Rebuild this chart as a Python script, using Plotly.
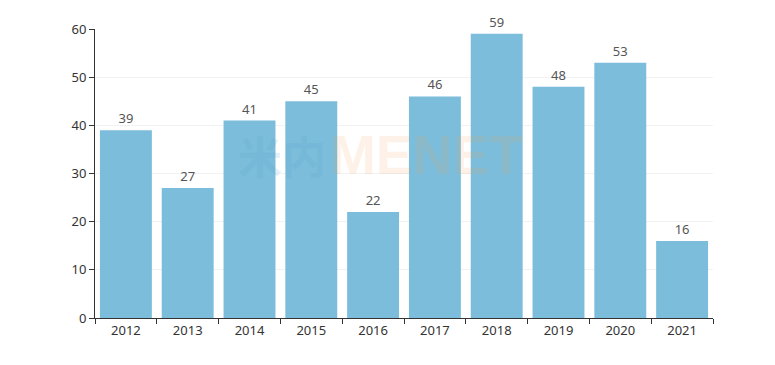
import plotly.graph_objects as go

years = ["2012", "2013", "2014", "2015", "2016", "2017", "2018", "2019", "2020", "2021"]
values = [39, 27, 41, 45, 22, 46, 59, 48, 53, 16]
y_ticks = [0, 10, 20, 30, 40, 50, 60]

fig = go.Figure()
fig.add_trace(go.Bar(
    x=years, y=values,
    marker=dict(color="#7bbdda", line=dict(width=0)),
    text=[str(v) for v in values], textposition="outside",
    textfont=dict(size=13, color="#555"),
    cliponaxis=False,
))

# faint watermark
fig.add_annotation(x=0.376, y=0.565, xref="paper", yref="paper", showarrow=False,
                   text="<b>米内</b>", font=dict(size=44, color="rgba(90,160,205,0.16)",
                                               family="Noto Sans CJK SC"),
                   xanchor="right", yanchor="middle", borderpad=0)
fig.add_annotation(x=0.378, y=0.565, xref="paper", yref="paper", showarrow=False,
                   text="<b>MENET</b>", font=dict(size=55, color="rgba(250,165,90,0.14)",
                                                 family="Liberation Sans"),
                   xanchor="left", yanchor="middle", borderpad=0)

fig.update_layout(
    width=767, height=357,
    margin=dict(l=87, r=62, t=19, b=47),
    paper_bgcolor="white", plot_bgcolor="white",
    bargap=0.16,
    showlegend=False,
    font=dict(family="Noto Sans, sans-serif", size=13, color="#333"),
    xaxis=dict(
        showline=True, linecolor="#333", linewidth=1,
        ticks="outside", tickson="boundaries", ticklen=5, tickcolor="#333",
        showgrid=False, tickfont=dict(size=13, color="#333"),
    ),
    yaxis=dict(
        range=[0, 60], tickvals=y_ticks,
        showline=True, linecolor="#333", linewidth=1,
        ticks="outside", ticklen=5, tickcolor="#333",
        showgrid=True, gridcolor="#f2f2f2", gridwidth=1,
        zeroline=False, tickfont=dict(size=13, color="#333"),
    ),
)

fig.write_html("out.html")
